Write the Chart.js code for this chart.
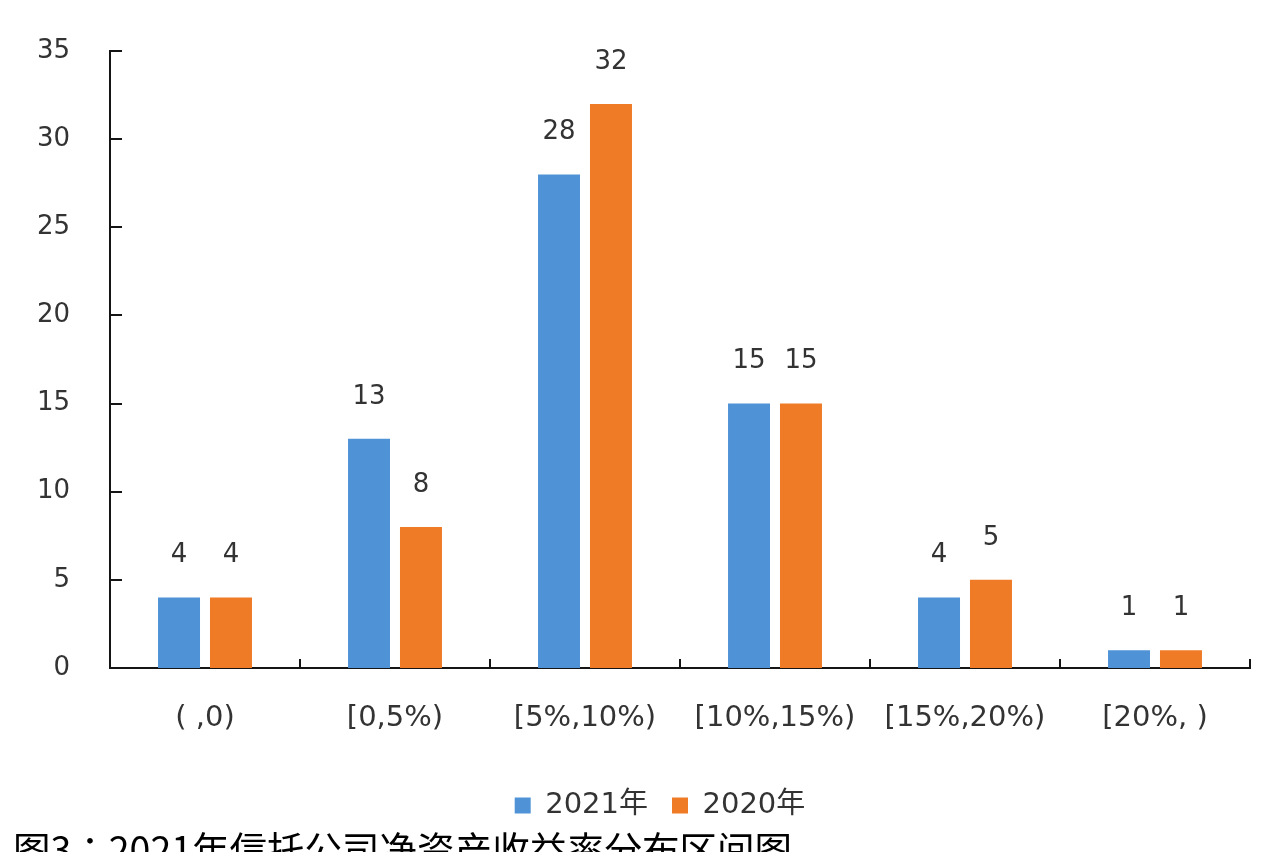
<!DOCTYPE html>
<html>
<head>
<meta charset="utf-8">
<script src="https://cdn.jsdelivr.net/npm/chart.js@4/dist/chart.umd.min.js"></script>
<style>
  html, body { margin: 0; padding: 0; background: #ffffff; overflow: hidden; }
  #wrap { position: relative; width: 1280px; height: 852px; }
</style>
</head>
<body>
<div id="wrap"><canvas id="c" width="1280" height="852"></canvas></div>
<script>
// 净资产收益率区间
const categories = ['( ,0)', '[0,5%)', '[5%,10%)', '[10%,15%)', '[15%,20%)', '[20%, )'];
// 各区间信托公司家数
const values2021 = [4, 13, 28, 15, 4, 1];
const values2020 = [4, 8, 32, 15, 5, 1];
const seriesNames = ['2021年', '2020年'];
const yTicks = [0, 5, 10, 15, 20, 25, 30, 35];
const caption = '图3：2021年信托公司净资产收益率分布区间图';

const NUM_FONT = '"DejaVu Sans", "Noto Sans CJK SC", sans-serif';
const TEXT_COLOR = '#333333';
const AXIS_COLOR = '#151515';

// Value labels above each bar
const valueLabels = {
  id: 'valueLabels',
  afterDatasetsDraw(chart) {
    const ctx = chart.ctx;
    ctx.save();
    ctx.font = '26px ' + NUM_FONT;
    ctx.fillStyle = TEXT_COLOR;
    ctx.textAlign = 'center';
    ctx.textBaseline = 'middle';
    chart.data.datasets.forEach((ds, di) => {
      const meta = chart.getDatasetMeta(di);
      meta.data.forEach((bar, i) => {
        ctx.fillText(String(ds.data[i]), bar.x, bar.y - 42);
      });
    });
    ctx.restore();
  }
};

// Short tick marks pointing into the plot area
const innerTicks = {
  id: 'innerTicks',
  afterDraw(chart) {
    const { ctx, chartArea } = chart;
    const xs = chart.scales.x, ys = chart.scales.y;
    ctx.save();
    ctx.strokeStyle = AXIS_COLOR;
    ctx.lineWidth = 2;
    ctx.beginPath();
    yTicks.forEach(v => {
      if (v === 0) return;
      const py = Math.round(ys.getPixelForValue(v));
      ctx.moveTo(chartArea.left, py);
      ctx.lineTo(chartArea.left + 12, py);
    });
    const n = categories.length;
    for (let i = 1; i <= n; i++) {
      const px = i < n ? (xs.getPixelForValue(i - 1) + xs.getPixelForValue(i)) / 2 : chartArea.right;
      ctx.moveTo(Math.round(px), chartArea.bottom);
      ctx.lineTo(Math.round(px), chartArea.bottom - 9);
    }
    ctx.stroke();
    ctx.restore();
  }
};

// Legend sits a little right of the canvas centre
const legendShift = {
  id: 'legendShift',
  afterLayout(chart) {
    if (chart.legend) chart.legend.left = 70;
  }
};

// Figure caption along the bottom edge
const captionText = {
  id: 'captionText',
  afterDraw(chart) {
    const ctx = chart.ctx;
    ctx.save();
    ctx.font = '37.5px "Noto Sans CJK JP", "Noto Sans CJK SC", sans-serif';
    ctx.fillStyle = '#000000';
    ctx.textAlign = 'left';
    ctx.textBaseline = 'alphabetic';
    ctx.fillText(caption, 13, 864);
    ctx.restore();
  }
};

new Chart(document.getElementById('c'), {
  type: 'bar',
  data: {
    labels: categories,
    datasets: [
      { label: seriesNames[0], data: values2021, backgroundColor: '#4f93d6', borderWidth: 0 },
      { label: seriesNames[1], data: values2020, backgroundColor: '#ef7b27', borderWidth: 0 }
    ]
  },
  options: {
    responsive: false,
    animation: false,
    events: [],
    datasets: { bar: { categoryPercentage: 0.547, barPercentage: 0.808 } },
    layout: { padding: { left: 0, right: 30, top: 51, bottom: 22 } },
    plugins: {
      legend: {
        position: 'bottom',
        labels: {
          boxWidth: 16,
          boxHeight: 16,
          padding: 24,
          color: TEXT_COLOR,
          font: { family: NUM_FONT, size: 29 }
        }
      },
      tooltip: { enabled: false },
      title: { display: false }
    },
    scales: {
      x: {
        grid: { display: false, drawTicks: false },
        border: { display: true, color: AXIS_COLOR, width: 2 },
        ticks: { color: TEXT_COLOR, padding: 33, font: { family: NUM_FONT, size: 29 }, maxRotation: 0, autoSkip: false },
        afterFit(scale) { scale.height = 99; }
      },
      y: {
        min: 0,
        max: 35,
        grid: { display: false, drawTicks: false },
        border: { display: true, color: AXIS_COLOR, width: 2 },
        ticks: {
          stepSize: 5,
          color: TEXT_COLOR,
          padding: 40,
          font: { family: NUM_FONT, size: 26 }
        },
        afterBuildTicks(scale) { scale.ticks = yTicks.map(v => ({ value: v })); },
        afterFit(scale) {
          scale.width = 110;
          scale.paddingTop = 16;
          scale.paddingBottom = 16;
        }
      }
    }
  },
  plugins: [valueLabels, innerTicks, legendShift, captionText]
});
</script>
</body>
</html>
